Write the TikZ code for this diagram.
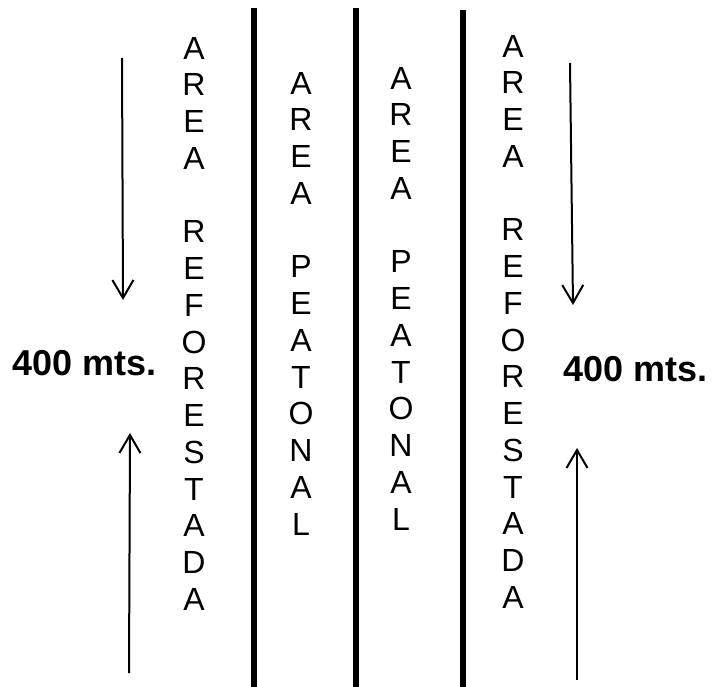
\documentclass[tikz,border=0pt]{standalone}
\usepackage{fontspec}
\setmainfont{Liberation Sans}
\usetikzlibrary{arrows.meta}

\tikzset{
  letters/.style={anchor=north, inner sep=0pt, align=center,
    font=\fontsize{32}{36.75}\selectfont},
  lenlabel/.style={anchor=base west, inner sep=0pt,
    font=\fontsize{36}{40}\selectfont\bfseries},
  divider/.style={line width=6pt},
  measure/.style={line width=2pt, -{Straight Barb[length=18pt,width=21pt,line width=2pt]}},
}

\begin{document}
\begin{tikzpicture}[x=1pt,y=-1pt]
  \useasboundingbox (0,0) rectangle (715,687);

  % thick dividers between the strips
  \coordinate (d1t) at (254,8);   \coordinate (d1b) at (254,687);
  \coordinate (d2t) at (356,8);   \coordinate (d2b) at (356,687);
  \coordinate (d3t) at (463,10);  \coordinate (d3b) at (463,687);
  \draw[divider] (d1t) -- (d1b);
  \draw[divider] (d2t) -- (d2b);
  \draw[divider] (d3t) -- (d3b);

  % vertical strip names
  \node[letters] (refL) at (194,37)
    {A\\R\\E\\A\\[36.75pt]R\\E\\F\\O\\R\\E\\S\\T\\A\\D\\A};
  \node[letters] (peatL) at (301,72)
    {A\\R\\E\\A\\[36.75pt]P\\E\\A\\T\\O\\N\\A\\L};
  \node[letters] (peatR) at (401,67)
    {A\\R\\E\\A\\[36.75pt]P\\E\\A\\T\\O\\N\\A\\L};
  \node[letters] (refR) at (513,35)
    {A\\R\\E\\A\\[36.75pt]R\\E\\F\\O\\R\\E\\S\\T\\A\\D\\A};

  % length labels
  \node[lenlabel] (lenL) at (12,375) {400 mts.};
  \node[lenlabel] (lenR) at (563,381) {400 mts.};

  % measuring arrows
  \coordinate (aL1) at (122,58);  \coordinate (aL2) at (123,300);
  \coordinate (aL3) at (129,673); \coordinate (aL4) at (130,433);
  \coordinate (aR1) at (570,63);  \coordinate (aR2) at (573,305);
  \coordinate (aR3) at (577,680); \coordinate (aR4) at (577,448);
  \draw[measure] (aL1) -- (aL2);
  \draw[measure] (aL3) -- (aL4);
  \draw[measure] (aR1) -- (aR2);
  \draw[measure] (aR3) -- (aR4);
\end{tikzpicture}
\end{document}
